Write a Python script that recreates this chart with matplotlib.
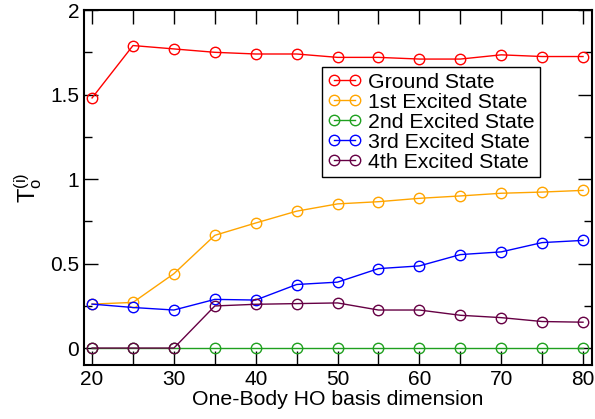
import numpy as np
import matplotlib
matplotlib.use('Agg')
import matplotlib.pyplot as plt
from matplotlib.ticker import MultipleLocator

plt.rcParams['font.family'] = ['Liberation Sans', 'DejaVu Sans']
plt.rcParams['mathtext.fontset'] = 'custom'
plt.rcParams['mathtext.rm'] = 'Liberation Sans'

# basis dimension
dims = [20, 25, 30, 35, 40, 45, 50, 55, 60, 65, 70, 75, 80]

ground = [1.48, 1.79, 1.77, 1.75, 1.74, 1.74, 1.72, 1.72, 1.71, 1.71, 1.735, 1.725, 1.725]
first = [0.26, 0.27, 0.44, 0.667, 0.74, 0.81, 0.853, 0.866, 0.886, 0.90, 0.916, 0.923, 0.933]
second = [0, 0, 0, 0, 0, 0, 0, 0, 0, 0, 0, 0, 0]
third = [0.26, 0.24, 0.225, 0.288, 0.284, 0.376, 0.39, 0.47, 0.486, 0.553, 0.569, 0.624, 0.637]
fourth = [0, 0, 0, 0.249, 0.259, 0.263, 0.267, 0.225, 0.225, 0.194, 0.18, 0.157, 0.153]

labels = ['Ground State', '1st Excited State', '2nd Excited State',
          '3rd Excited State', '4th Excited State']
colors = ['#ff0000', '#ffa500', '#1fa01f', '#0000ff', '#660044']

fig = plt.figure(figsize=(5.95, 4.19), dpi=100)
ax = fig.add_axes([0.141, 0.129, 0.854, 0.847])

series = [ground, first, second, third, fourth]
for vals, lab, c in zip(series, labels, colors):
    ax.plot(dims, vals, '-o', color=c, lw=1.0, ms=7.5, mfc='none', mew=1.0, label=lab)

ax.set_xlim(19, 81.1)
ax.set_ylim(-0.1, 2.0)
ax.xaxis.set_major_locator(MultipleLocator(10))
ax.xaxis.set_minor_locator(MultipleLocator(5))
ax.yaxis.set_major_locator(MultipleLocator(0.5))
ax.yaxis.set_minor_locator(MultipleLocator(0.25))
ax.set_yticks([0, 0.5, 1, 1.5, 2])
ax.set_yticklabels(['0', '0.5', '1', '1.5', '2'])
ax.tick_params(which='both', direction='in', top=True, right=True, labelsize=15, width=1)
ax.tick_params(which='major', length=10)
ax.tick_params(axis='x', which='minor', length=10)
ax.tick_params(axis='y', which='minor', length=6)
for s in ax.spines.values():
    s.set_linewidth(1.5)

ax.set_xlabel('One-Body HO basis dimension', fontsize=15.3, labelpad=1)
ax.set_ylabel(r'$\mathregular{T_o^{(i)}}$', fontsize=17, labelpad=4)

leg = ax.legend(loc='upper left', bbox_to_anchor=(0.4685, 0.839), fontsize=15.3,
                numpoints=2, handlelength=1.6, handletextpad=0.3,
                labelspacing=0.05, borderpad=0.25, fancybox=False,
                edgecolor='black', framealpha=1, borderaxespad=0)
leg.get_frame().set_linewidth(1.0)
for h in leg.legend_handles:
    h.set_markersize(7.5)

fig.savefig('out.png', dpi=100)
